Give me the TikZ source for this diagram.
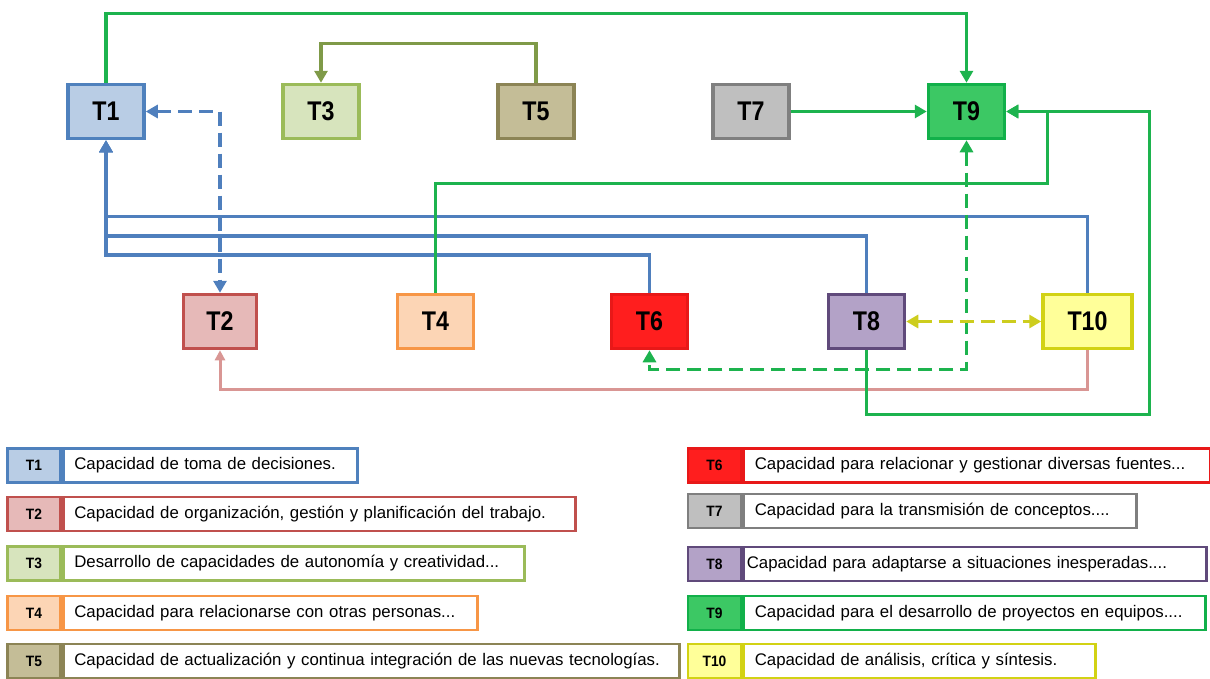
\documentclass[tikz,border=0pt]{standalone}
\usepackage{fontspec}
\setmainfont{Liberation Sans}
\newfontfamily\boxfont[FakeStretch=0.86]{Liberation Sans}
\newfontfamily\keyfont[FakeStretch=0.92]{Liberation Sans}
\newfontfamily\legfont[WordSpace=2.2]{Liberation Sans}
\usetikzlibrary{arrows.meta}

% box colours: line / fill
\definecolor{c1l}{HTML}{4F81BD}\definecolor{c1f}{HTML}{B9CDE5}
\definecolor{c2l}{HTML}{C0504D}\definecolor{c2f}{HTML}{E6B9B8}
\definecolor{c3l}{HTML}{9BBB59}\definecolor{c3f}{HTML}{D7E4BD}
\definecolor{c4l}{HTML}{F79646}\definecolor{c4f}{HTML}{FCD5B5}
\definecolor{c5l}{HTML}{8C8455}\definecolor{c5f}{HTML}{C4BD97}
\definecolor{c6l}{HTML}{E81818}\definecolor{c6f}{HTML}{FF1E1E}
\definecolor{c7l}{HTML}{7F7F7F}\definecolor{c7f}{HTML}{BFBFBF}
\definecolor{c8l}{HTML}{604A7B}\definecolor{c8f}{HTML}{B3A2C7}
\definecolor{c9l}{HTML}{12B04A}\definecolor{c9f}{HTML}{3CC864}
\definecolor{c10l}{HTML}{D2D214}\definecolor{c10f}{HTML}{FFFF99}
% connector colours
\definecolor{lgreen}{HTML}{1DB34E}
\definecolor{lblue}{HTML}{4F7FBD}
\definecolor{lolive}{HTML}{7F9A48}
\definecolor{lpink}{HTML}{D99694}
\definecolor{lyellow}{HTML}{CDCD1E}

\tikzset{
  tbox/.style={draw=#1l, fill=#1f, line width=3.5pt, minimum width=76pt,
    minimum height=54pt, inner sep=0pt,
    font=\boxfont\bfseries\fontsize{27}{27}\selectfont},
  tip/.tip={Triangle[length=12pt,width=13pt]},
  smalltip/.tip={Triangle[length=10pt,width=10pt]},
  link/.style={line width=3.5pt},
  gline/.style={link, draw=lgreen},
  bline/.style={link, draw=lblue},
  oline/.style={link, draw=lolive},
  pline/.style={line width=3pt, draw=lpink},
  dashlink/.style={line width=3.5pt, dash pattern=on 14pt off 7pt},
  legkey/.style={draw=#1l, fill=#1f, line width=2.8pt, minimum width=53pt,
    minimum height=34pt, inner sep=0pt,
    font=\keyfont\bfseries\fontsize{15}{15}\selectfont},
  legtxt/.style={draw=#1l, fill=white, line width=2.8pt, minimum height=34pt,
    inner xsep=11pt, inner ysep=0pt, anchor=west, align=left,
    font=\legfont\fontsize{16.8}{18}\selectfont}
}

\begin{document}
\begin{tikzpicture}[x=1pt,y=-1pt]
\useasboundingbox (0,0) rectangle (1210,678);

% ---- competence boxes ----
\node[tbox=c1]  (T1)  at (106,111.5) {T1};
\node[tbox=c3]  (T3)  at (321,111.5) {T3};
\node[tbox=c5]  (T5)  at (536,111.5) {T5};
\node[tbox=c7]  (T7)  at (751,111.5) {T7};
\node[tbox=c9]  (T9)  at (966.5,111.5) {T9};
\node[tbox=c2, minimum width=73pt]  (T2)  at (220,321.5) {T2};
\node[tbox=c4]  (T4)  at (435.5,321.5) {T4};
\node[tbox=c6]  (T6)  at (649.5,321.5) {T6};
\node[tbox=c8]  (T8)  at (866.5,321.5) {T8};
\node[tbox=c10, minimum width=89pt] (T10) at (1087.5,321.5) {T10};

% ---- routing levels ----
\coordinate (topY)   at (0,13.5);
\coordinate (oliveY) at (0,43.5);
\coordinate (yB1)    at (0,216.7);
\coordinate (yB2)    at (0,236);
\coordinate (yB3)    at (0,255);
\coordinate (g4)     at (1047.5,183.3);
\coordinate (g8)     at (1149.4,414.3);
\coordinate (gd)     at (0,369.3);
\coordinate (pk)     at (0,389.5);

% ---- connectors ----
\draw[pline,-smalltip] (T10.south) -- (T10.south |- pk) -| (T2.south);
\draw[bline,-tip] (T10.north) |- (T1.south |- yB1) -- (T1.south);
\draw[bline,-tip] (T8.north) |- (T1.south |- yB2) -- (T1.south);
\draw[bline,-tip] (T6.north) |- (T1.south |- yB3) -- (T1.south);
\draw[gline,-tip] (T1.north) -- (T1.north |- topY) -| (T9.north);
\draw[oline,-tip] (T5.north) -- (T5.north |- oliveY) -| (T3.north);
\draw[gline,-tip] (T7.east) -- (T9.west);
\draw[gline,-tip] (T4.north) |- (g4) |- (T9.east);
\draw[gline,-tip] (T8.south) |- (g8) |- (T9.east);
\draw[dashlink, draw=lblue, tip-tip] (T1.east) -| (T2.north);
\draw[dashlink, draw=lgreen, tip-tip] (T9.south) -- (T9.south |- gd) -| (T6.south);
\draw[dashlink, draw=lyellow, tip-tip] (T8.east) -- (T10.west);

% ---- legend, left column ----
\node[legkey=c1] (K1) at (34,465.5) {T1};
\node[legtxt=c1, text width=272.5pt] (D1) at (K1.east) {Capacidad de toma de decisiones.};
\node[legkey=c2] (K2) at (34,514) {T2};
\node[legtxt=c2, text width=490.5pt] (D2) at (K2.east) {Capacidad de organización, gestión y planificación del trabajo.};
\node[legkey=c3] (K3) at (34,563.5) {T3};
\node[legtxt=c3, text width=439.5pt] (D3) at (K3.east) {Desarrollo de capacidades de autonomía y creatividad...};
\node[legkey=c4] (K4) at (34,613) {T4};
\node[legtxt=c4, text width=392pt] (D4) at (K4.east) {Capacidad para relacionarse con otras personas...};
\node[legkey=c5] (K5) at (34,661) {T5};
\node[legtxt=c5, text width=594.5pt] (D5) at (K5.east) {Capacidad de actualización y continua integración de las nuevas tecnologías.};

% ---- legend, right column ----
\node[legkey=c6] (K6) at (714.5,465.5) {T6};
\node[legtxt=c6, text width=445pt] (D6) at (K6.east) {Capacidad para relacionar y gestionar diversas fuentes...};
\node[legkey=c7] (K7) at (714.5,511) {T7};
\node[legtxt=c7, text width=370.5pt] (D7) at (K7.east) {Capacidad para la transmisión de conceptos....};
\node[legkey=c8] (K8) at (714.5,564) {T8};
\node[legtxt=c8, text width=457pt, inner xsep=3pt] (D8) at (K8.east) {Capacidad para adaptarse a situaciones inesperadas....};
\node[legkey=c9] (K9) at (714.5,613) {T9};
\node[legtxt=c9, text width=439.5pt] (D9) at (K9.east) {Capacidad para el desarrollo de proyectos en equipos....};
\node[legkey=c10] (K10) at (714.5,661) {T10};
\node[legtxt=c10, text width=329.5pt] (D10) at (K10.east) {Capacidad de análisis, crítica y síntesis.};
\end{tikzpicture}
\end{document}
